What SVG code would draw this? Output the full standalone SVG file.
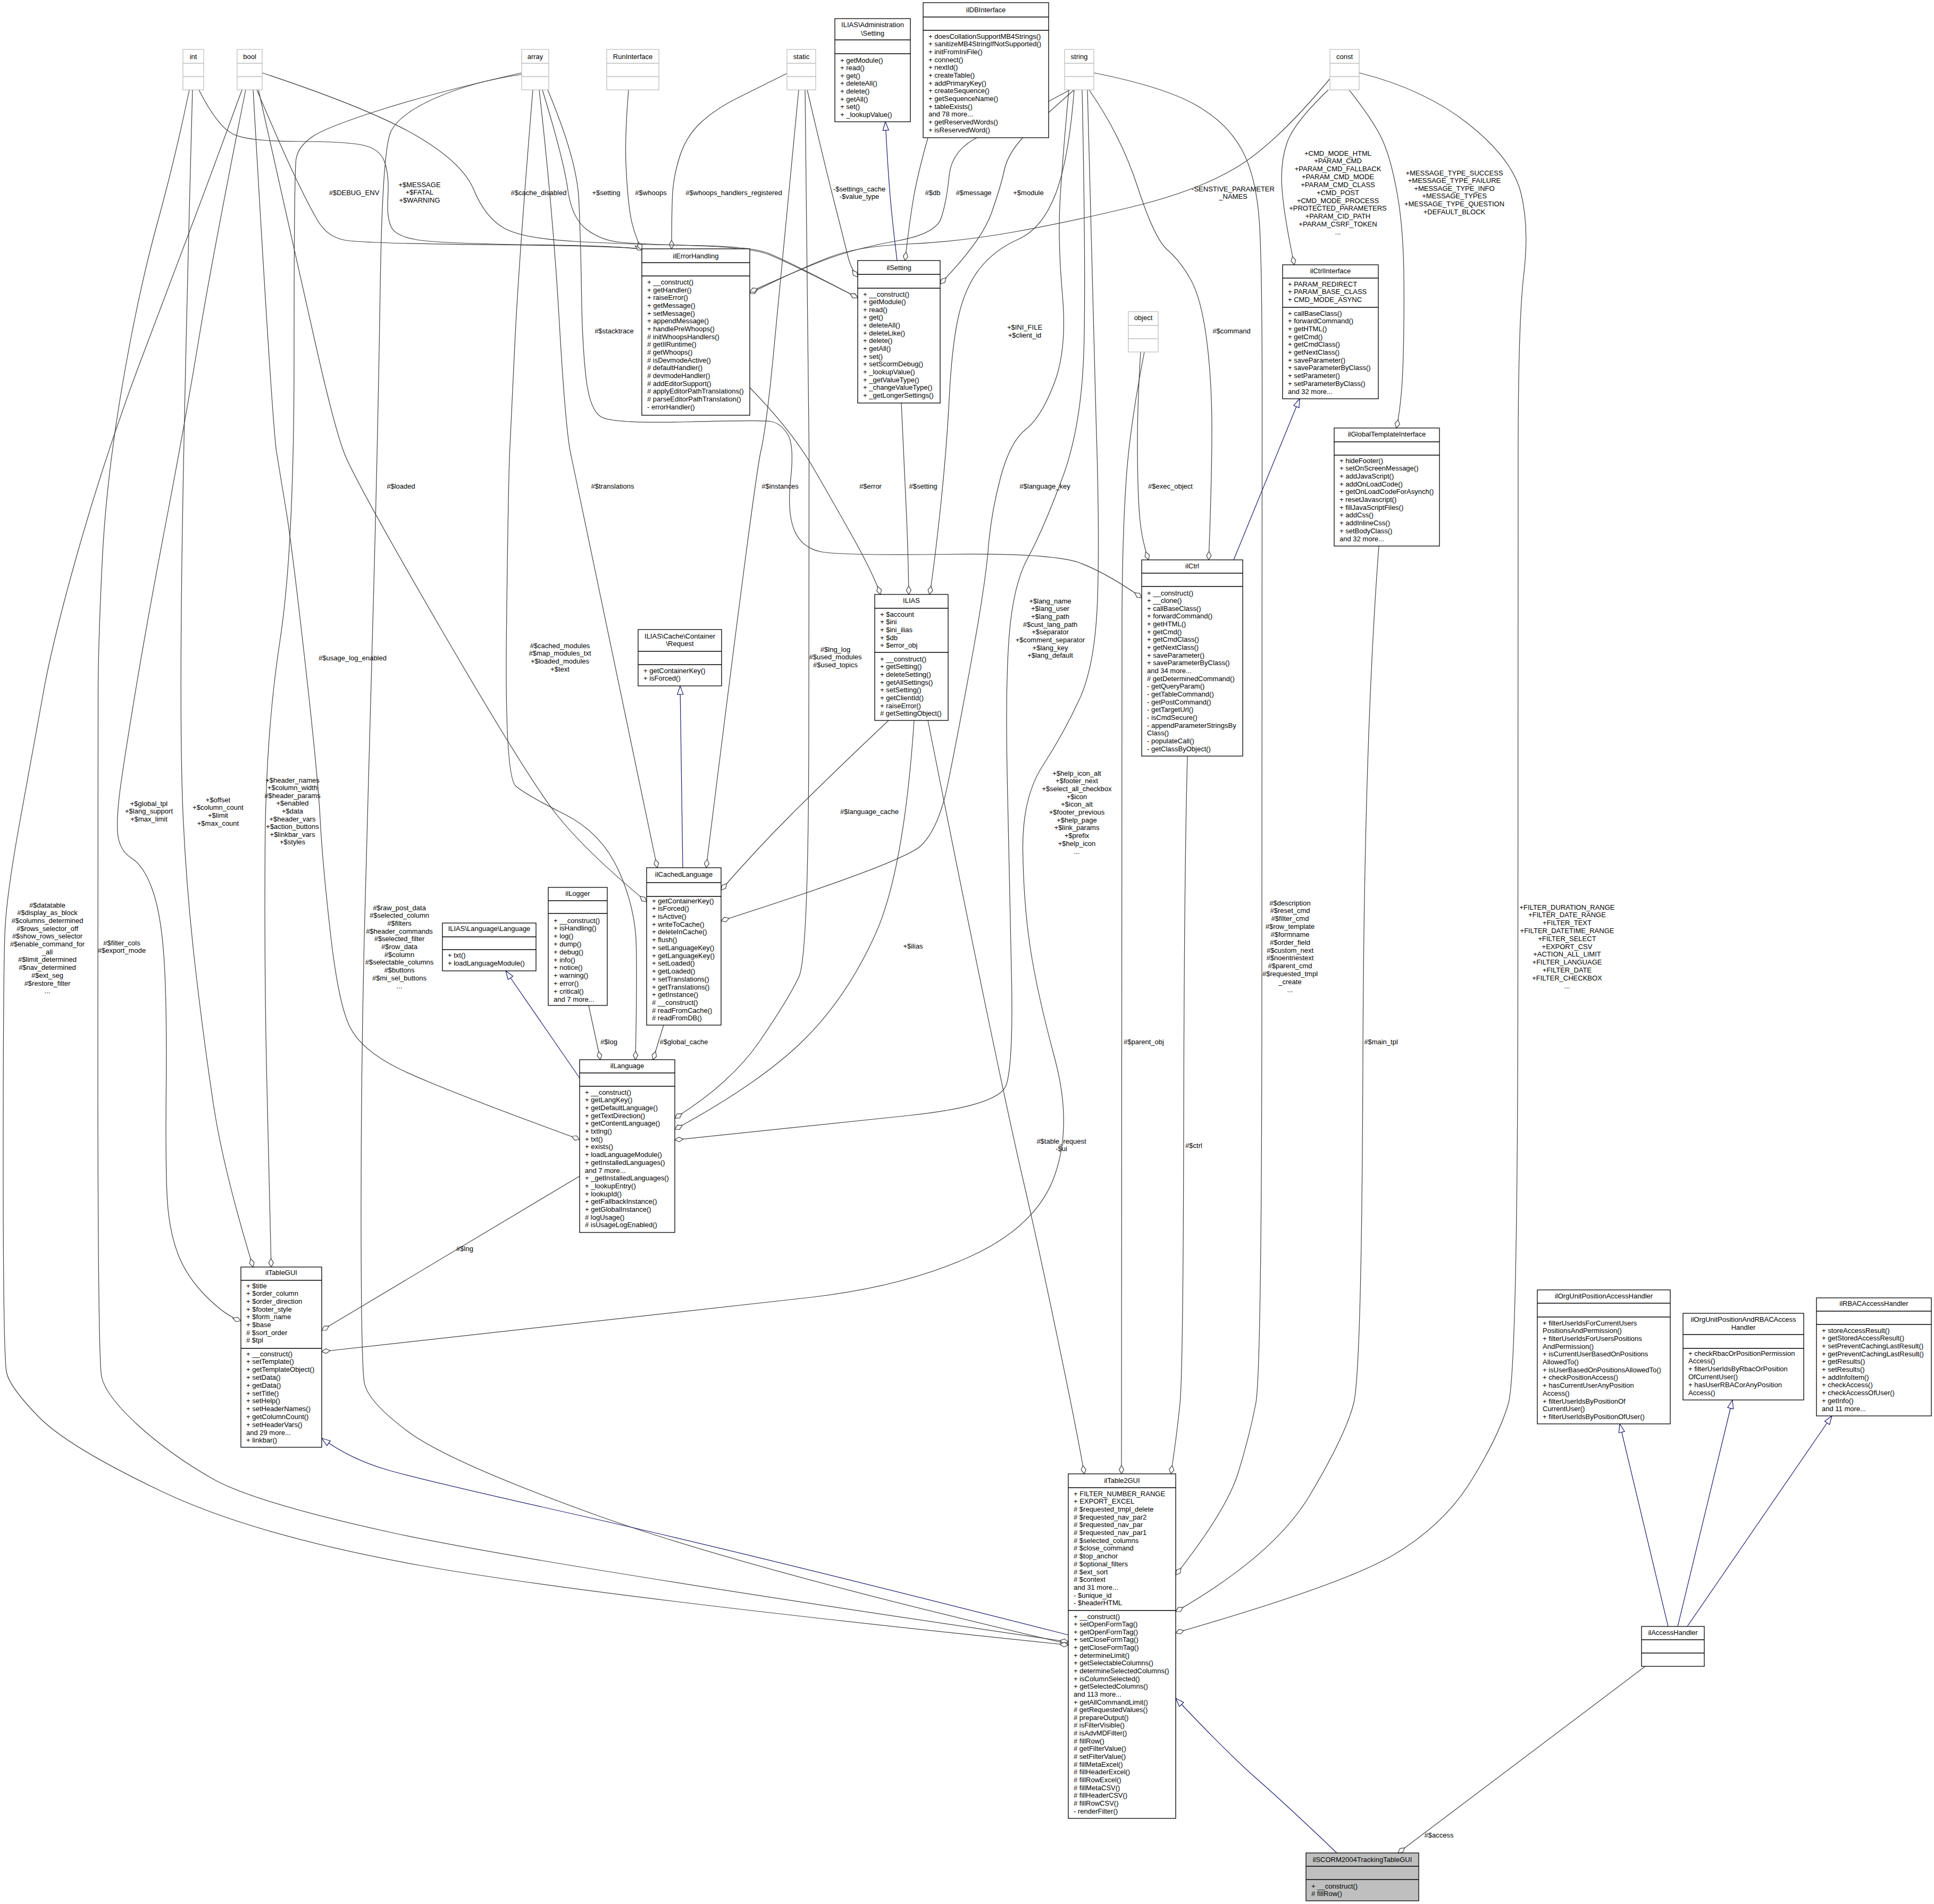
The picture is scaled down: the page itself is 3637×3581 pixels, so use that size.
<svg xmlns="http://www.w3.org/2000/svg" width="3637" height="3581" viewBox="0 0 3637 3581">
<style>
text{font-family:"Liberation Sans",Arial,Helvetica,sans-serif;font-size:13px;fill:#000}
.n rect{fill:#fff;stroke:#000;stroke-width:1.3}
.n path{fill:none;stroke:#000;stroke-width:1.3}
.g rect{fill:#fff;stroke:#bfbfbf;stroke-width:1.3}
.g path{fill:none;stroke:#bfbfbf;stroke-width:1.3}
.c{text-anchor:middle}
.e{fill:none;stroke:#404040;stroke-width:1.2;marker-end:url(#dia)}
.i{fill:none;stroke:#191970;stroke-width:1.2;marker-end:url(#tri)}
.lb text{text-anchor:middle}
</style>
<defs>
<marker id="dia" markerUnits="userSpaceOnUse" markerWidth="18" markerHeight="10" refX="17" refY="5" orient="auto" overflow="visible"><path d="M1,5 L9,0.5 L17,5 L9,9.5 Z" fill="#fff" stroke="#404040" stroke-width="1.2"/></marker>
<marker id="tri" markerUnits="userSpaceOnUse" markerWidth="18" markerHeight="12" refX="17" refY="6" orient="auto" overflow="visible"><path d="M1,0.5 L17,6 L1,11.5 Z" fill="#fff" stroke="#191970" stroke-width="1.2"/></marker>
</defs>
<rect x="0" y="0" width="3637" height="3581" fill="#fff"/>
<g id="connectors">
<path class="e" d="M374,169 Q410,240 440,253 Q470,266 560,266 Q650,266 682.5,273 Q715,280 723.5,305 Q732,330 729.5,370 Q727,410 736,427.5 Q745,445 787.5,451.5 Q830,458 1012.5,460.5 Q1195,463 1209,470"/>
<path class="e" d="M483,169 Q530,280 555,332.5 Q580,385 597.5,415 Q615,445 647.5,451.5 Q680,458 937.5,460.5 Q1195,463 1209,470"/>
<path class="e" d="M1182,169 Q1175,255 1177,306 Q1179,357 1184,395.5 Q1189,434 1207,470"/>
<path class="e" d="M1480,138 Q1430,163 1388.5,183.5 Q1347,204 1319,229.5 Q1291,255 1278.5,293.5 Q1266,332 1264.5,370 Q1263,408 1263,468"/>
<path class="e" d="M2501,148 Q2400,270 2325,315 Q2250,360 2125,390 Q2000,420 1900,437.5 Q1800,455 1707,459 Q1614,463 1560.5,483.5 Q1507,504 1410,552"/>
<path class="e" d="M2012,169 Q1900,230 1845,255 Q1790,280 1785,330 Q1780,380 1770,410 Q1760,440 1687,453 Q1614,466 1560.5,485.5 Q1507,505 1410,549"/>
<path class="e" d="M2020,169 Q1950,230 1922.5,260 Q1895,290 1888.5,320.5 Q1882,351 1864,402 Q1846,453 1768,534"/>
<path class="e" d="M1518,169 Q1550,306 1569.5,382.5 Q1589,459 1594.5,482 Q1600,505 1613,521"/>
<path class="e" d="M1745,259 Q1725,330 1717.5,375 Q1710,420 1702,490"/>
<path class="i" d="M1687,490 Q1677,408 1673,357 Q1669,306 1665,229"/>
<path class="e" d="M493,137 Q695,204 782.5,255 Q870,306 891,357 Q912,408 947,428.5 Q982,449 1087.5,454.5 Q1193,460 1301.5,461.5 Q1410,463 1444,476 Q1478,489 1613,560"/>
<path class="e" d="M1020,169 Q1060,300 1067.5,355 Q1075,410 1102.5,431 Q1130,452 1165,455.5 Q1200,459 1305,462 Q1410,465 1445,478.5 Q1480,492 1613,560"/>
<path class="e" d="M2498,169 Q2434,230 2420.5,268 Q2407,306 2411,357 Q2415,408 2434,498"/>
<path class="i" d="M2320,1053 L2444,750"/>
<path class="e" d="M2537,169 Q2585,230 2600.5,265 Q2616,300 2627.5,364 Q2639,428 2640,517 Q2641,606 2638.5,682.5 Q2636,759 2626,805"/>
<path class="e" d="M2556,137 Q2680,168 2762.5,234 Q2845,300 2860.5,364 Q2876,428 2865.5,517 Q2855,606 2855,853 Q2855,1100 2854.5,1840 Q2854,2580 2836.5,2640 Q2819,2700 2767,2784.5 Q2715,2869 2619.5,2925 Q2524,2981 2211,3071"/>
<path class="e" d="M2145,662 Q2139,759 2139,835.5 Q2139,912 2142.5,963 Q2146,1014 2160,1053"/>
<path class="e" d="M2152,662 Q2125,800 2118,900 Q2111,1000 2110,1150 Q2109,1300 2109,2772"/>
<path class="e" d="M2048,169 Q2108,255 2139.5,352 Q2171,449 2195,469.5 Q2219,490 2239,525.5 Q2259,561 2269,637.5 Q2279,714 2279,807 Q2279,900 2273,1053"/>
<path class="e" d="M1030,169 Q1085,300 1088.5,375 Q1092,450 1093.5,550 Q1095,650 1102,710 Q1109,770 1129.5,783.5 Q1150,797 1290,793.5 Q1430,790 1448.5,792.5 Q1467,795 1480.5,815.5 Q1494,836 1487,899.5 Q1480,963 1493.5,996.5 Q1507,1030 1543,1037.5 Q1579,1045 1779.5,1042.5 Q1980,1040 2030,1058.5 Q2080,1077 2147,1124"/>
<path class="e" d="M2233,1422 Q2227,1640 2226,2110 Q2225,2580 2219,2640 Q2213,2700 2202,2772"/>
<path class="e" d="M1410,729 Q1489,810 1529.5,880 Q1570,950 1605,1012.5 Q1640,1075 1656,1118"/>
<path class="e" d="M1695,758 Q1702,900 1705,975 Q1708,1050 1709,1118"/>
<path class="e" d="M2020,169 Q2010,300 1985,365 Q1960,430 1915,450 Q1870,470 1842.5,505 Q1815,540 1802.5,595 Q1790,650 1785,750 Q1780,850 1767.5,965 Q1755,1080 1748,1118"/>
<path class="i" d="M1284,1632 L1279,1290"/>
<path class="e" d="M1014,169 Q1040,400 1051.5,600 Q1063,800 1072.5,850 Q1082,900 1236,1632"/>
<path class="e" d="M1502,169 Q1470,500 1456,650 Q1442,800 1430.5,850 Q1419,900 1328,1632"/>
<path class="e" d="M486,169 Q560,500 594,650 Q628,800 646.5,850 Q665,900 828,1180.5 Q991,1461 1045.5,1530.5 Q1100,1600 1216,1696"/>
<path class="e" d="M1107,1891 L1129,1993"/>
<path class="e" d="M1002,169 Q975,500 968,650 Q961,800 958.5,850 Q956,900 952.5,1180.5 Q949,1461 970,1478.5 Q991,1496 1061,1531 Q1131,1566 1163,1636.5 Q1195,1707 1196.5,1778.5 Q1198,1850 1195,1993"/>
<path class="e" d="M1248,1928 L1228,1993"/>
<path class="i" d="M1091,2029 L951,1826"/>
<path class="e" d="M476,169 Q512,800 520,850 Q528,900 538.5,963 Q549,1026 573.5,1243.5 Q598,1461 602,1539.5 Q606,1618 621,1752 Q636,1886 657.5,1930.5 Q679,1975 751.5,2010.5 Q824,2046 1090,2143"/>
<path class="e" d="M1514,169 Q1522,800 1521.5,850 Q1521,900 1521,1348.5 Q1521,1797 1502.5,1837 Q1484,1877 1429.5,1957 Q1375,2037 1269,2103"/>
<path class="e" d="M1719,1355 Q1700,1638 1646,1757.5 Q1592,1877 1510.5,1957 Q1429,2037 1269,2124"/>
<path class="e" d="M2035,169 Q2042,500 2038.5,650 Q2035,800 1997.5,900 Q1960,1000 1932.5,1050 Q1905,1100 1897.5,1200 Q1890,1300 1895,1500 Q1900,1700 1902.5,1850 Q1905,2000 1892.5,2040 Q1880,2080 1709,2098 Q1538,2116 1269,2144"/>
<path class="e" d="M1671,1355 Q1560,1460 1490,1530 Q1420,1600 1356,1674"/>
<path class="e" d="M2010,169 Q1998,300 1993.5,376.5 Q1989,453 1998,555 Q2007,657 1982.5,721 Q1958,785 1929,807.5 Q1900,830 1882,896.5 Q1864,963 1858.5,1031.5 Q1853,1100 1825.5,1249.5 Q1798,1399 1781.5,1478.5 Q1765,1558 1732.5,1590 Q1700,1622 1356,1732"/>
<path class="e" d="M1745,1355 Q1809,1678 1854.5,1897 Q1900,2116 1925,2223.5 Q1950,2331 1988.5,2515.5 Q2027,2700 2039,2772"/>
<path class="e" d="M2045,169 Q2055,600 2061.5,800 Q2068,1000 2064,1125 Q2060,1250 2030,1315 Q2000,1380 1961,1440 Q1922,1500 1923.5,1600 Q1925,1700 1937.5,1783 Q1950,1866 1983.5,1990.5 Q2017,2115 1983.5,2210.5 Q1950,2306 1825,2363 Q1700,2420 1525,2440 Q1350,2460 605,2542"/>
<path class="e" d="M2593,1027 Q2565,1400 2563,1990 Q2561,2580 2545.5,2640 Q2530,2700 2463,2812.5 Q2396,2925 2211,3031"/>
<path class="e" d="M2057,137 Q2187,163 2247,196.5 Q2307,230 2335,281 Q2363,332 2368.5,421 Q2374,510 2373.5,805 Q2373,1100 2373,1840 Q2373,2580 2361.5,2640 Q2350,2700 2328.5,2770 Q2307,2840 2211,2962"/>
<path class="e" d="M981,137 Q821,173 716,206.5 Q611,240 586,258 Q561,276 557,298 Q553,320 553,676.5 Q553,1033 526.5,1205 Q500,1377 498.5,1588.5 Q497,1800 501,2000 Q505,2200 510,2383"/>
<path class="e" d="M981,140 Q891,153 821,183.5 Q751,214 735,247.5 Q719,281 715,540.5 Q711,800 703,1100 Q695,1400 687,1687.5 Q679,1975 679,2269.5 Q679,2564 685,2600 Q691,2636 768,2693 Q845,2750 1122.5,2850 Q1400,2950 2009,3092"/>
<path class="e" d="M362,169 Q345,800 341.5,1100 Q338,1400 344.5,1539 Q351,1678 367,1817 Q383,1956 401.5,2078 Q420,2200 476,2383"/>
<path class="e" d="M356,169 Q330,296 295,423 Q260,550 230,725 Q200,900 192.5,1050 Q185,1200 184.5,1300 Q184,1400 184,1977 Q184,2554 191,2589 Q198,2624 258.5,2679.5 Q319,2735 398.5,2780.5 Q478,2826 739,2883 Q1000,2940 2009,3088"/>
<path class="e" d="M455,169 Q400,320 365,412.5 Q330,505 265,677.5 Q200,850 150,1025 Q100,1200 82,1300 Q64,1400 38.5,1539 Q13,1678 9.5,1747.5 Q6,1817 6,2185.5 Q6,2554 12.5,2582 Q19,2610 73.5,2665.5 Q128,2721 303,2804.5 Q478,2888 789,2944 Q1100,3000 2009,3094"/>
<path class="e" d="M462,169 Q400,480 373.5,640 Q347,800 313.5,975 Q280,1150 259,1275 Q238,1400 228,1469.5 Q218,1539 221.5,1569.5 Q225,1600 248,1614.5 Q271,1629 287,1674.5 Q303,1720 308.5,1803.5 Q314,1887 312.5,2047 Q311,2207 315,2262.5 Q319,2318 335,2359.5 Q351,2401 387.5,2438 Q424,2475 453,2484"/>
<path class="i" d="M2009,3075 Q1400,2920 1100,2852.5 Q800,2785 730,2765 Q660,2745 605,2705"/>
<path class="e" d="M1090,2212 L605,2502"/>
<path class="e" d="M3094,3134 L2629,3485"/>
<path class="i" d="M2514,3485 Q2422,3397 2364.5,3346.5 Q2307,3296 2211,3194"/>
<path class="i" d="M3137,3059 L3046,2678"/>
<path class="i" d="M3155,3059 L3258,2633"/>
<path class="i" d="M3173,3059 L3445,2663"/>
<g class="lb">
<text x="666" y="366.5">#$DEBUG_ENV</text>
<text x="789" y="351.5">+$MESSAGE<tspan x="789" dy="14.7">+$FATAL</tspan><tspan x="789" dy="14.7">+$WARNING</tspan></text>
<text x="1013" y="366.5">#$cache_disabled</text>
<text x="1140" y="366.5">+$setting</text>
<text x="1224" y="366.5">#$whoops</text>
<text x="1380" y="366.5">#$whoops_handlers_registered</text>
<text x="1616" y="359.5">-$settings_cache<tspan x="1616" dy="14.7">-$value_type</tspan></text>
<text x="1754" y="366.5">#$db</text>
<text x="1831" y="366.5">#$message</text>
<text x="1934" y="366.5">+$module</text>
<text x="2319" y="359.5">-SENSTIVE_PARAMETER<tspan x="2319" dy="14.7">_NAMES</tspan></text>
<text x="2516" y="292.5">+CMD_MODE_HTML<tspan x="2516" dy="14.85">+PARAM_CMD</tspan><tspan x="2516" dy="14.85">+PARAM_CMD_FALLBACK</tspan><tspan x="2516" dy="14.85">+PARAM_CMD_MODE</tspan><tspan x="2516" dy="14.85">+PARAM_CMD_CLASS</tspan><tspan x="2516" dy="14.85">+CMD_POST</tspan><tspan x="2516" dy="14.85">+CMD_MODE_PROCESS</tspan><tspan x="2516" dy="14.85">+PROTECTED_PARAMETERS</tspan><tspan x="2516" dy="14.85">+PARAM_CID_PATH</tspan><tspan x="2516" dy="14.85">+PARAM_CSRF_TOKEN</tspan><tspan x="2516" dy="14.85">...</tspan></text>
<text x="2735" y="329.5">+MESSAGE_TYPE_SUCCESS<tspan x="2735" dy="14.6">+MESSAGE_TYPE_FAILURE</tspan><tspan x="2735" dy="14.6">+MESSAGE_TYPE_INFO</tspan><tspan x="2735" dy="14.6">+MESSAGE_TYPES</tspan><tspan x="2735" dy="14.6">+MESSAGE_TYPE_QUESTION</tspan><tspan x="2735" dy="14.6">+DEFAULT_BLOCK</tspan></text>
<text x="1155" y="626.5">#$stacktrace</text>
<text x="1927" y="619.5">+$INI_FILE<tspan x="1927" dy="15.5">+$client_id</tspan></text>
<text x="2316" y="626.5">#$command</text>
<text x="754" y="918.5">#$loaded</text>
<text x="1152" y="918.5">#$translations</text>
<text x="1467" y="918.5">#$instances</text>
<text x="1637" y="918.5">#$error</text>
<text x="1736" y="918.5">#$setting</text>
<text x="1965" y="918.5">#$language_key</text>
<text x="2201" y="918.5">#$exec_object</text>
<text x="1975" y="1134.5">+$lang_name<tspan x="1975" dy="14.7">+$lang_user</tspan><tspan x="1975" dy="14.7">+$lang_path</tspan><tspan x="1975" dy="14.7">#$cust_lang_path</tspan><tspan x="1975" dy="14.7">+$separator</tspan><tspan x="1975" dy="14.7">+$comment_separator</tspan><tspan x="1975" dy="14.7">+$lang_key</tspan><tspan x="1975" dy="14.7">+$lang_default</tspan></text>
<text x="663" y="1241.5">#$usage_log_enabled</text>
<text x="1053" y="1218.5">#$cached_modules<tspan x="1053" dy="14.7">#$map_modules_txt</tspan><tspan x="1053" dy="14.7">+$loaded_modules</tspan><tspan x="1053" dy="14.7">+$text</tspan></text>
<text x="1571" y="1225.5">#$lng_log<tspan x="1571" dy="14.5">#$used_modules</tspan><tspan x="1571" dy="14.5">#$used_topics</tspan></text>
<text x="2025" y="1458.5">+$help_icon_alt<tspan x="2025" dy="14.7">+$footer_next</tspan><tspan x="2025" dy="14.7">+$select_all_checkbox</tspan><tspan x="2025" dy="14.7">+$icon</tspan><tspan x="2025" dy="14.7">+$icon_alt</tspan><tspan x="2025" dy="14.7">+$footer_previous</tspan><tspan x="2025" dy="14.7">+$help_page</tspan><tspan x="2025" dy="14.7">+$link_params</tspan><tspan x="2025" dy="14.7">+$prefix</tspan><tspan x="2025" dy="14.7">+$help_icon</tspan><tspan x="2025" dy="14.7">...</tspan></text>
<text x="550" y="1471.5">+$header_names<tspan x="550" dy="14.6">+$column_width</tspan><tspan x="550" dy="14.6">#$header_params</tspan><tspan x="550" dy="14.6">+$enabled</tspan><tspan x="550" dy="14.6">+$data</tspan><tspan x="550" dy="14.6">+$header_vars</tspan><tspan x="550" dy="14.6">+$action_buttons</tspan><tspan x="550" dy="14.6">+$linkbar_vars</tspan><tspan x="550" dy="14.6">+$styles</tspan></text>
<text x="280" y="1515.5">+$global_tpl<tspan x="280" dy="14.5">+$lang_support</tspan><tspan x="280" dy="14.5">+$max_limit</tspan></text>
<text x="410" y="1508.5">+$offset<tspan x="410" dy="14.7">+$column_count</tspan><tspan x="410" dy="14.7">+$limit</tspan><tspan x="410" dy="14.7">+$max_count</tspan></text>
<text x="1635" y="1530.5">#$language_cache</text>
<text x="751" y="1711.5">#$raw_post_data<tspan x="751" dy="14.7">#$selected_column</tspan><tspan x="751" dy="14.7">#$filters</tspan><tspan x="751" dy="14.7">#$header_commands</tspan><tspan x="751" dy="14.7">#$selected_filter</tspan><tspan x="751" dy="14.7">#$row_data</tspan><tspan x="751" dy="14.7">#$column</tspan><tspan x="751" dy="14.7">#$selectable_columns</tspan><tspan x="751" dy="14.7">#$buttons</tspan><tspan x="751" dy="14.7">#$mi_sel_buttons</tspan><tspan x="751" dy="14.7">...</tspan></text>
<text x="89" y="1706.5">#$datatable<tspan x="89" dy="14.7">#$display_as_block</tspan><tspan x="89" dy="14.7">#$columns_determined</tspan><tspan x="89" dy="14.7">#$rows_selector_off</tspan><tspan x="89" dy="14.7">#$show_rows_selector</tspan><tspan x="89" dy="14.7">#$enable_command_for</tspan><tspan x="89" dy="14.7">_all</tspan><tspan x="89" dy="14.7">#$limit_determined</tspan><tspan x="89" dy="14.7">#$nav_determined</tspan><tspan x="89" dy="14.7">#$ext_seg</tspan><tspan x="89" dy="14.7">#$restore_filter</tspan><tspan x="89" dy="14.7">...</tspan></text>
<text x="229" y="1777.5">#$filter_cols<tspan x="229" dy="14.5">#$export_mode</tspan></text>
<text x="2426" y="1702.5">#$description<tspan x="2426" dy="14.85">#$reset_cmd</tspan><tspan x="2426" dy="14.85">#$filter_cmd</tspan><tspan x="2426" dy="14.85">#$row_template</tspan><tspan x="2426" dy="14.85">#$formname</tspan><tspan x="2426" dy="14.85">#$order_field</tspan><tspan x="2426" dy="14.85">#$custom_next</tspan><tspan x="2426" dy="14.85">#$noentriestext</tspan><tspan x="2426" dy="14.85">#$parent_cmd</tspan><tspan x="2426" dy="14.85">#$requested_tmpl</tspan><tspan x="2426" dy="14.85">_create</tspan><tspan x="2426" dy="14.85">...</tspan></text>
<text x="2947" y="1710.5">+FILTER_DURATION_RANGE<tspan x="2947" dy="14.8">+FILTER_DATE_RANGE</tspan><tspan x="2947" dy="14.8">+FILTER_TEXT</tspan><tspan x="2947" dy="14.8">+FILTER_DATETIME_RANGE</tspan><tspan x="2947" dy="14.8">+FILTER_SELECT</tspan><tspan x="2947" dy="14.8">+EXPORT_CSV</tspan><tspan x="2947" dy="14.8">+ACTION_ALL_LIMIT</tspan><tspan x="2947" dy="14.8">+FILTER_LANGUAGE</tspan><tspan x="2947" dy="14.8">+FILTER_DATE</tspan><tspan x="2947" dy="14.8">+FILTER_CHECKBOX</tspan><tspan x="2947" dy="14.8">...</tspan></text>
<text x="1717" y="1783.5">+$ilias</text>
<text x="1145" y="1963.5">#$log</text>
<text x="1286" y="1963.5">#$global_cache</text>
<text x="2151" y="1963.5">#$parent_obj</text>
<text x="2597" y="1963.5">#$main_tpl</text>
<text x="1996" y="2150.5">#$table_request<tspan x="1996" dy="14.7">-$ui</tspan></text>
<text x="2245" y="2158.5">#$ctrl</text>
<text x="874" y="2352.5">#$lng</text>
<text x="2706" y="3455.5">#$access</text>
</g>
</g>
<g id="int" class="g"><rect x="344" y="93" width="39" height="76"/><path d="M344,119H383M344,144H383"/><text class="c" x="363.5" y="110.5">int</text></g>
<g id="bool" class="g"><rect x="446" y="93" width="47" height="76"/><path d="M446,119H493M446,144H493"/><text class="c" x="469.5" y="110.5">bool</text></g>
<g id="array" class="g"><rect x="981" y="93" width="51" height="76"/><path d="M981,119H1032M981,144H1032"/><text class="c" x="1006.5" y="110.5">array</text></g>
<g id="RunInterface" class="g"><rect x="1141" y="93" width="98" height="76"/><path d="M1141,119H1239M1141,144H1239"/><text class="c" x="1190" y="110.5">RunInterface</text></g>
<g id="static" class="g"><rect x="1480" y="93" width="54" height="76"/><path d="M1480,119H1534M1480,144H1534"/><text class="c" x="1507" y="110.5">static</text></g>
<g id="string" class="g"><rect x="2002" y="93" width="55" height="76"/><path d="M2002,119H2057M2002,144H2057"/><text class="c" x="2029.5" y="110.5">string</text></g>
<g id="const" class="g"><rect x="2501" y="93" width="55" height="76"/><path d="M2501,119H2556M2501,144H2556"/><text class="c" x="2528.5" y="110.5">const</text></g>
<g id="object" class="g"><rect x="2122" y="586" width="56" height="76"/><path d="M2122,612H2178M2122,637H2178"/><text class="c" x="2150" y="601.5">object</text></g>
<g id="ILIAS_Administration_Setting" class="n"><rect x="1570" y="35" width="142" height="194"/><path d="M1570,75H1712M1570,101H1712"/><text class="c" x="1641" y="50.5">ILIAS\Administration<tspan x="1641" dy="16">\Setting</tspan></text><text x="1580" y="117.5">+ getModule()<tspan x="1580" dy="14.6">+ read()</tspan><tspan x="1580" dy="14.6">+ get()</tspan><tspan x="1580" dy="14.6">+ deleteAll()</tspan><tspan x="1580" dy="14.6">+ delete()</tspan><tspan x="1580" dy="14.6">+ getAll()</tspan><tspan x="1580" dy="14.6">+ set()</tspan><tspan x="1580" dy="14.6">+ _lookupValue()</tspan></text></g>
<g id="ilDBInterface" class="n"><rect x="1736" y="5" width="236" height="254"/><path d="M1736,32H1972M1736,57H1972"/><text class="c" x="1854" y="22.5">ilDBInterface</text><text x="1746" y="72.5">+ doesCollationSupportMB4Strings()<tspan x="1746" dy="14.7">+ sanitizeMB4StringIfNotSupported()</tspan><tspan x="1746" dy="14.7">+ initFromIniFile()</tspan><tspan x="1746" dy="14.7">+ connect()</tspan><tspan x="1746" dy="14.7">+ nextId()</tspan><tspan x="1746" dy="14.7">+ createTable()</tspan><tspan x="1746" dy="14.7">+ addPrimaryKey()</tspan><tspan x="1746" dy="14.7">+ createSequence()</tspan><tspan x="1746" dy="14.7">+ getSequenceName()</tspan><tspan x="1746" dy="14.7">+ tableExists()</tspan><tspan x="1746" dy="14.7">and 78 more...</tspan><tspan x="1746" dy="14.7">+ getReservedWords()</tspan><tspan x="1746" dy="14.7">+ isReservedWord()</tspan></text></g>
<g id="ilErrorHandling" class="n"><rect x="1207" y="468" width="203" height="313"/><path d="M1207,494H1410M1207,519H1410"/><text class="c" x="1308.5" y="485.5">ilErrorHandling</text><text x="1217" y="535">+ __construct()<tspan x="1217" dy="14.67">+ getHandler()</tspan><tspan x="1217" dy="14.67">+ raiseError()</tspan><tspan x="1217" dy="14.67">+ getMessage()</tspan><tspan x="1217" dy="14.67">+ setMessage()</tspan><tspan x="1217" dy="14.67">+ appendMessage()</tspan><tspan x="1217" dy="14.67">+ handlePreWhoops()</tspan><tspan x="1217" dy="14.67"># initWhoopsHandlers()</tspan><tspan x="1217" dy="14.67"># getIlRuntime()</tspan><tspan x="1217" dy="14.67"># getWhoops()</tspan><tspan x="1217" dy="14.67"># isDevmodeActive()</tspan><tspan x="1217" dy="14.67"># defaultHandler()</tspan><tspan x="1217" dy="14.67"># devmodeHandler()</tspan><tspan x="1217" dy="14.67"># addEditorSupport()</tspan><tspan x="1217" dy="14.67"># applyEditorPathTranslations()</tspan><tspan x="1217" dy="14.67"># parseEditorPathTranslation()</tspan><tspan x="1217" dy="14.67">- errorHandler()</tspan></text></g>
<g id="ilSetting" class="n"><rect x="1613" y="490" width="155" height="268"/><path d="M1613,516H1768M1613,542H1768"/><text class="c" x="1690.5" y="507.5">ilSetting</text><text x="1623" y="557.5">+ __construct()<tspan x="1623" dy="14.65">+ getModule()</tspan><tspan x="1623" dy="14.65">+ read()</tspan><tspan x="1623" dy="14.65">+ get()</tspan><tspan x="1623" dy="14.65">+ deleteAll()</tspan><tspan x="1623" dy="14.65">+ deleteLike()</tspan><tspan x="1623" dy="14.65">+ delete()</tspan><tspan x="1623" dy="14.65">+ getAll()</tspan><tspan x="1623" dy="14.65">+ set()</tspan><tspan x="1623" dy="14.65">+ setScormDebug()</tspan><tspan x="1623" dy="14.65">+ _lookupValue()</tspan><tspan x="1623" dy="14.65">+ _getValueType()</tspan><tspan x="1623" dy="14.65">+ _changeValueType()</tspan><tspan x="1623" dy="14.65">+ _getLongerSettings()</tspan></text></g>
<g id="ilCtrlInterface" class="n"><rect x="2412" y="498" width="180" height="252"/><path d="M2412,523H2592M2412,578H2592"/><text class="c" x="2502" y="513.5">ilCtrlInterface</text><text x="2422" y="538.5">+ PARAM_REDIRECT<tspan x="2422" dy="14.8">+ PARAM_BASE_CLASS</tspan><tspan x="2422" dy="14.8">+ CMD_MODE_ASYNC</tspan></text><text x="2422" y="593.5">+ callBaseClass()<tspan x="2422" dy="14.7">+ forwardCommand()</tspan><tspan x="2422" dy="14.7">+ getHTML()</tspan><tspan x="2422" dy="14.7">+ getCmd()</tspan><tspan x="2422" dy="14.7">+ getCmdClass()</tspan><tspan x="2422" dy="14.7">+ getNextClass()</tspan><tspan x="2422" dy="14.7">+ saveParameter()</tspan><tspan x="2422" dy="14.7">+ saveParameterByClass()</tspan><tspan x="2422" dy="14.7">+ setParameter()</tspan><tspan x="2422" dy="14.7">+ setParameterByClass()</tspan><tspan x="2422" dy="14.7">and 32 more...</tspan></text></g>
<g id="ilGlobalTemplateInterface" class="n"><rect x="2509" y="805" width="198" height="222"/><path d="M2509,831H2707M2509,856H2707"/><text class="c" x="2608" y="820.5">ilGlobalTemplateInterface</text><text x="2519" y="870.5">+ hideFooter()<tspan x="2519" dy="14.7">+ setOnScreenMessage()</tspan><tspan x="2519" dy="14.7">+ addJavaScript()</tspan><tspan x="2519" dy="14.7">+ addOnLoadCode()</tspan><tspan x="2519" dy="14.7">+ getOnLoadCodeForAsynch()</tspan><tspan x="2519" dy="14.7">+ resetJavascript()</tspan><tspan x="2519" dy="14.7">+ fillJavaScriptFiles()</tspan><tspan x="2519" dy="14.7">+ addCss()</tspan><tspan x="2519" dy="14.7">+ addInlineCss()</tspan><tspan x="2519" dy="14.7">+ setBodyClass()</tspan><tspan x="2519" dy="14.7">and 32 more...</tspan></text></g>
<g id="ilCtrl" class="n"><rect x="2147" y="1053" width="190" height="369"/><path d="M2147,1078H2337M2147,1103H2337"/><text class="c" x="2242" y="1068.5">ilCtrl</text><text x="2157" y="1119.5">+ __construct()<tspan x="2157" dy="14.65">+ __clone()</tspan><tspan x="2157" dy="14.65">+ callBaseClass()</tspan><tspan x="2157" dy="14.65">+ forwardCommand()</tspan><tspan x="2157" dy="14.65">+ getHTML()</tspan><tspan x="2157" dy="14.65">+ getCmd()</tspan><tspan x="2157" dy="14.65">+ getCmdClass()</tspan><tspan x="2157" dy="14.65">+ getNextClass()</tspan><tspan x="2157" dy="14.65">+ saveParameter()</tspan><tspan x="2157" dy="14.65">+ saveParameterByClass()</tspan><tspan x="2157" dy="14.65">and 34 more...</tspan><tspan x="2157" dy="14.65"># getDeterminedCommand()</tspan><tspan x="2157" dy="14.65">- getQueryParam()</tspan><tspan x="2157" dy="14.65">- getTableCommand()</tspan><tspan x="2157" dy="14.65">- getPostCommand()</tspan><tspan x="2157" dy="14.65">- getTargetUrl()</tspan><tspan x="2157" dy="14.65">- isCmdSecure()</tspan><tspan x="2157" dy="14.65">- appendParameterStringsBy</tspan><tspan x="2157" dy="14.65">Class()</tspan><tspan x="2157" dy="14.65">- populateCall()</tspan><tspan x="2157" dy="14.65">- getClassByObject()</tspan></text></g>
<g id="ILIAS" class="n"><rect x="1645" y="1118" width="138" height="237"/><path d="M1645,1144H1783M1645,1227H1783"/><text class="c" x="1714" y="1133.5">ILIAS</text><text x="1655" y="1159.5">+ $account<tspan x="1655" dy="14.7">+ $ini</tspan><tspan x="1655" dy="14.7">+ $ini_ilias</tspan><tspan x="1655" dy="14.7">+ $db</tspan><tspan x="1655" dy="14.7">+ $error_obj</tspan></text><text x="1655" y="1243.5">+ __construct()<tspan x="1655" dy="14.7">+ getSetting()</tspan><tspan x="1655" dy="14.7">+ deleteSetting()</tspan><tspan x="1655" dy="14.7">+ getAllSettings()</tspan><tspan x="1655" dy="14.7">+ setSetting()</tspan><tspan x="1655" dy="14.7">+ getClientId()</tspan><tspan x="1655" dy="14.7">+ raiseError()</tspan><tspan x="1655" dy="14.7"># getSettingObject()</tspan></text></g>
<g id="ILIAS_Cache_Container_Request" class="n"><rect x="1200" y="1184" width="157" height="106"/><path d="M1200,1225H1357M1200,1250H1357"/><text class="c" x="1278.5" y="1200.5">ILIAS\Cache\Container<tspan x="1278.5" dy="14.5">\Request</tspan></text><text x="1210" y="1265.5">+ getContainerKey()<tspan x="1210" dy="14.7">+ isForced()</tspan></text></g>
<g id="ilCachedLanguage" class="n"><rect x="1216" y="1632" width="140" height="296"/><path d="M1216,1660H1356M1216,1686H1356"/><text class="c" x="1286" y="1648.5">ilCachedLanguage</text><text x="1226" y="1698.5">+ getContainerKey()<tspan x="1226" dy="14.73">+ isForced()</tspan><tspan x="1226" dy="14.73">+ isActive()</tspan><tspan x="1226" dy="14.73">+ writeToCache()</tspan><tspan x="1226" dy="14.73">+ deleteInCache()</tspan><tspan x="1226" dy="14.73">+ flush()</tspan><tspan x="1226" dy="14.73">+ setLanguageKey()</tspan><tspan x="1226" dy="14.73">+ getLanguageKey()</tspan><tspan x="1226" dy="14.73">+ setLoaded()</tspan><tspan x="1226" dy="14.73">+ getLoaded()</tspan><tspan x="1226" dy="14.73">+ setTranslations()</tspan><tspan x="1226" dy="14.73">+ getTranslations()</tspan><tspan x="1226" dy="14.73">+ getInstance()</tspan><tspan x="1226" dy="14.73"># __construct()</tspan><tspan x="1226" dy="14.73"># readFromCache()</tspan><tspan x="1226" dy="14.73"># readFromDB()</tspan></text></g>
<g id="ILIAS_Language_Language" class="n"><rect x="832" y="1736" width="176" height="90"/><path d="M832,1762H1008M832,1786H1008"/><text class="c" x="920" y="1750.5">ILIAS\Language\Language</text><text x="842" y="1800.5">+ txt()<tspan x="842" dy="15">+ loadLanguageModule()</tspan></text></g>
<g id="ilLogger" class="n"><rect x="1031" y="1669" width="111" height="222"/><path d="M1031,1694H1142M1031,1718H1142"/><text class="c" x="1086.5" y="1684.5">ilLogger</text><text x="1041" y="1735.5">+ __construct()<tspan x="1041" dy="14.8">+ isHandling()</tspan><tspan x="1041" dy="14.8">+ log()</tspan><tspan x="1041" dy="14.8">+ dump()</tspan><tspan x="1041" dy="14.8">+ debug()</tspan><tspan x="1041" dy="14.8">+ info()</tspan><tspan x="1041" dy="14.8">+ notice()</tspan><tspan x="1041" dy="14.8">+ warning()</tspan><tspan x="1041" dy="14.8">+ error()</tspan><tspan x="1041" dy="14.8">+ critical()</tspan><tspan x="1041" dy="14.8">and 7 more...</tspan></text></g>
<g id="ilLanguage" class="n"><rect x="1090" y="1993" width="179" height="325"/><path d="M1090,2018H1269M1090,2043H1269"/><text class="c" x="1179.5" y="2008.5">ilLanguage</text><text x="1100" y="2058.5">+ __construct()<tspan x="1100" dy="14.7">+ getLangKey()</tspan><tspan x="1100" dy="14.7">+ getDefaultLanguage()</tspan><tspan x="1100" dy="14.7">+ getTextDirection()</tspan><tspan x="1100" dy="14.7">+ getContentLanguage()</tspan><tspan x="1100" dy="14.7">+ txtlng()</tspan><tspan x="1100" dy="14.7">+ txt()</tspan><tspan x="1100" dy="14.7">+ exists()</tspan><tspan x="1100" dy="14.7">+ loadLanguageModule()</tspan><tspan x="1100" dy="14.7">+ getInstalledLanguages()</tspan><tspan x="1100" dy="14.7">and 7 more...</tspan><tspan x="1100" dy="14.7">+ _getInstalledLanguages()</tspan><tspan x="1100" dy="14.7">+ _lookupEntry()</tspan><tspan x="1100" dy="14.7">+ lookupId()</tspan><tspan x="1100" dy="14.7">+ getFallbackInstance()</tspan><tspan x="1100" dy="14.7">+ getGlobalInstance()</tspan><tspan x="1100" dy="14.7"># logUsage()</tspan><tspan x="1100" dy="14.7"># isUsageLogEnabled()</tspan></text></g>
<g id="ilTableGUI" class="n"><rect x="453" y="2383" width="152" height="339"/><path d="M453,2408H605M453,2536H605"/><text class="c" x="529" y="2397.5">ilTableGUI</text><text x="463" y="2422.5">+ $title<tspan x="463" dy="14.7">+ $order_column</tspan><tspan x="463" dy="14.7">+ $order_direction</tspan><tspan x="463" dy="14.7">+ $footer_style</tspan><tspan x="463" dy="14.7">+ $form_name</tspan><tspan x="463" dy="14.7">+ $base</tspan><tspan x="463" dy="14.7"># $sort_order</tspan><tspan x="463" dy="14.7"># $tpl</tspan></text><text x="463" y="2550.5">+ __construct()<tspan x="463" dy="14.8">+ setTemplate()</tspan><tspan x="463" dy="14.8">+ getTemplateObject()</tspan><tspan x="463" dy="14.8">+ setData()</tspan><tspan x="463" dy="14.8">+ getData()</tspan><tspan x="463" dy="14.8">+ setTitle()</tspan><tspan x="463" dy="14.8">+ setHelp()</tspan><tspan x="463" dy="14.8">+ setHeaderNames()</tspan><tspan x="463" dy="14.8">+ getColumnCount()</tspan><tspan x="463" dy="14.8">+ setHeaderVars()</tspan><tspan x="463" dy="14.8">and 29 more...</tspan><tspan x="463" dy="14.8">+ linkbar()</tspan></text></g>
<g id="ilTable2GUI" class="n"><rect x="2009" y="2772" width="202" height="648"/><path d="M2009,2798H2211M2009,3029H2211"/><text class="c" x="2110" y="2788.5">ilTable2GUI</text><text x="2019" y="2813.5">+ FILTER_NUMBER_RANGE<tspan x="2019" dy="14.7">+ EXPORT_EXCEL</tspan><tspan x="2019" dy="14.7"># $requested_tmpl_delete</tspan><tspan x="2019" dy="14.7"># $requested_nav_par2</tspan><tspan x="2019" dy="14.7"># $requested_nav_par</tspan><tspan x="2019" dy="14.7"># $requested_nav_par1</tspan><tspan x="2019" dy="14.7"># $selected_columns</tspan><tspan x="2019" dy="14.7"># $close_command</tspan><tspan x="2019" dy="14.7"># $top_anchor</tspan><tspan x="2019" dy="14.7"># $optional_filters</tspan><tspan x="2019" dy="14.7"># $ext_sort</tspan><tspan x="2019" dy="14.7"># $context</tspan><tspan x="2019" dy="14.7">and 31 more...</tspan><tspan x="2019" dy="14.7">- $unique_id</tspan><tspan x="2019" dy="14.7">- $headerHTML</tspan></text><text x="2019" y="3044.5">+ __construct()<tspan x="2019" dy="14.64">+ setOpenFormTag()</tspan><tspan x="2019" dy="14.64">+ getOpenFormTag()</tspan><tspan x="2019" dy="14.64">+ setCloseFormTag()</tspan><tspan x="2019" dy="14.64">+ getCloseFormTag()</tspan><tspan x="2019" dy="14.64">+ determineLimit()</tspan><tspan x="2019" dy="14.64">+ getSelectableColumns()</tspan><tspan x="2019" dy="14.64">+ determineSelectedColumns()</tspan><tspan x="2019" dy="14.64">+ isColumnSelected()</tspan><tspan x="2019" dy="14.64">+ getSelectedColumns()</tspan><tspan x="2019" dy="14.64">and 113 more...</tspan><tspan x="2019" dy="14.64">+ getAllCommandLimit()</tspan><tspan x="2019" dy="14.64"># getRequestedValues()</tspan><tspan x="2019" dy="14.64"># prepareOutput()</tspan><tspan x="2019" dy="14.64"># isFilterVisible()</tspan><tspan x="2019" dy="14.64"># isAdvMDFilter()</tspan><tspan x="2019" dy="14.64"># fillRow()</tspan><tspan x="2019" dy="14.64"># getFilterValue()</tspan><tspan x="2019" dy="14.64"># setFilterValue()</tspan><tspan x="2019" dy="14.64"># fillMetaExcel()</tspan><tspan x="2019" dy="14.64"># fillHeaderExcel()</tspan><tspan x="2019" dy="14.64"># fillRowExcel()</tspan><tspan x="2019" dy="14.64"># fillMetaCSV()</tspan><tspan x="2019" dy="14.64"># fillHeaderCSV()</tspan><tspan x="2019" dy="14.64"># fillRowCSV()</tspan><tspan x="2019" dy="14.64">- renderFilter()</tspan></text></g>
<g id="ilOrgUnitPositionAccessHandler" class="n"><rect x="2891" y="2426" width="250" height="252"/><path d="M2891,2451H3141M2891,2477H3141"/><text class="c" x="3016" y="2441.5">ilOrgUnitPositionAccessHandler</text><text x="2901" y="2492.5">+ filterUserIdsForCurrentUsers<tspan x="2901" dy="14.7">PositionsAndPermission()</tspan><tspan x="2901" dy="14.7">+ filterUserIdsForUsersPositions</tspan><tspan x="2901" dy="14.7">AndPermission()</tspan><tspan x="2901" dy="14.7">+ isCurrentUserBasedOnPositions</tspan><tspan x="2901" dy="14.7">AllowedTo()</tspan><tspan x="2901" dy="14.7">+ isUserBasedOnPositionsAllowedTo()</tspan><tspan x="2901" dy="14.7">+ checkPositionAccess()</tspan><tspan x="2901" dy="14.7">+ hasCurrentUserAnyPosition</tspan><tspan x="2901" dy="14.7">Access()</tspan><tspan x="2901" dy="14.7">+ filterUserIdsByPositionOf</tspan><tspan x="2901" dy="14.7">CurrentUser()</tspan><tspan x="2901" dy="14.7">+ filterUserIdsByPositionOfUser()</tspan></text></g>
<g id="ilOrgUnitPositionAndRBACAccessHandler" class="n"><rect x="3165" y="2470" width="227" height="163"/><path d="M3165,2510H3392M3165,2536H3392"/><text class="c" x="3278.5" y="2485.5">ilOrgUnitPositionAndRBACAccess<tspan x="3278.5" dy="15">Handler</tspan></text><text x="3175" y="2549.5">+ checkRbacOrPositionPermission<tspan x="3175" dy="14.8">Access()</tspan><tspan x="3175" dy="14.8">+ filterUserIdsByRbacOrPosition</tspan><tspan x="3175" dy="14.8">OfCurrentUser()</tspan><tspan x="3175" dy="14.8">+ hasUserRBACorAnyPosition</tspan><tspan x="3175" dy="14.8">Access()</tspan></text></g>
<g id="ilRBACAccessHandler" class="n"><rect x="3416" y="2441" width="216" height="222"/><path d="M3416,2466H3632M3416,2491H3632"/><text class="c" x="3524" y="2455.5">ilRBACAccessHandler</text><text x="3426" y="2506.5">+ storeAccessResult()<tspan x="3426" dy="14.7">+ getStoredAccessResult()</tspan><tspan x="3426" dy="14.7">+ setPreventCachingLastResult()</tspan><tspan x="3426" dy="14.7">+ getPreventCachingLastResult()</tspan><tspan x="3426" dy="14.7">+ getResults()</tspan><tspan x="3426" dy="14.7">+ setResults()</tspan><tspan x="3426" dy="14.7">+ addInfoItem()</tspan><tspan x="3426" dy="14.7">+ checkAccess()</tspan><tspan x="3426" dy="14.7">+ checkAccessOfUser()</tspan><tspan x="3426" dy="14.7">+ getInfo()</tspan><tspan x="3426" dy="14.7">and 11 more...</tspan></text></g>
<g id="ilAccessHandler" class="n"><rect x="3087" y="3059" width="118" height="75"/><path d="M3087,3084H3205M3087,3109H3205"/><text class="c" x="3146" y="3074.5">ilAccessHandler</text></g>
<g id="ilSCORM2004TrackingTableGUI" class="n"><rect x="2456" y="3485" width="212" height="90" style="fill:#bfbfbf"/><path d="M2456,3510H2668M2456,3535H2668"/><text class="c" x="2562" y="3501.5">ilSCORM2004TrackingTableGUI</text><text x="2466" y="3551.5">+ __construct()<tspan x="2466" dy="14.5"># fillRow()</tspan></text></g>
</svg>
